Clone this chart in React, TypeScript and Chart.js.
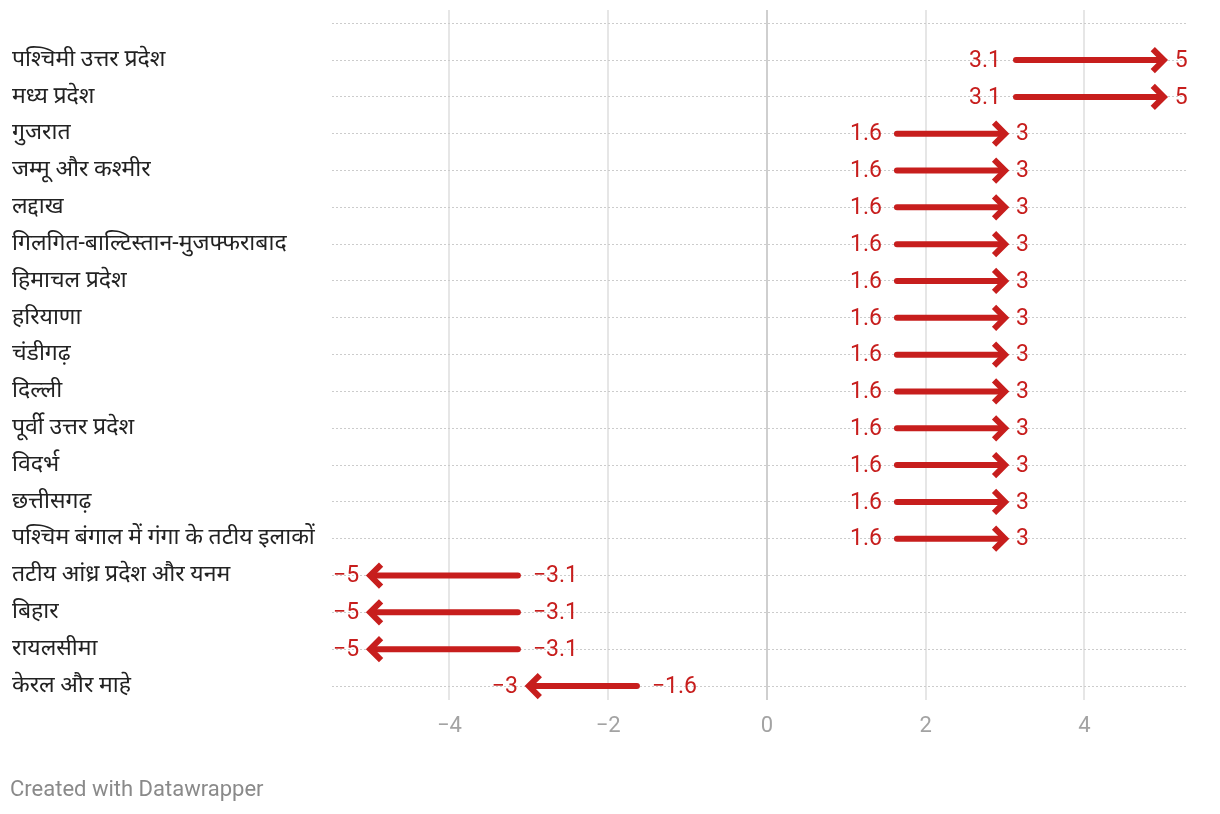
import React, { useEffect, useRef } from "react";
import { Chart, registerables } from "chart.js";

Chart.register(...registerables);

const regions: string[] = [
  "पश्चिमी उत्तर प्रदेश",
  "मध्य प्रदेश",
  "गुजरात",
  "जम्मू और कश्मीर",
  "लद्दाख",
  "गिलगित-बाल्टिस्तान-मुजफ्फराबाद",
  "हिमाचल प्रदेश",
  "हरियाणा",
  "चंडीगढ़",
  "दिल्ली",
  "पूर्वी उत्तर प्रदेश",
  "विदर्भ",
  "छत्तीसगढ़",
  "पश्चिम बंगाल में गंगा के तटीय इलाकों",
  "तटीय आंध्र प्रदेश और यनम",
  "बिहार",
  "रायलसीमा",
  "केरल और माहे",
];

const startValues: number[] = [3.1, 3.1, 1.6, 1.6, 1.6, 1.6, 1.6, 1.6, 1.6, 1.6, 1.6, 1.6, 1.6, 1.6, -3.1, -3.1, -3.1, -1.6];
const endValues: number[] = [5, 5, 3, 3, 3, 3, 3, 3, 3, 3, 3, 3, 3, 3, -5, -5, -5, -3];

const xTicks: number[] = [-4, -2, 0, 2, 4];

const RED = "#c71e1d";
const FONT = "Roboto, 'Noto Sans', sans-serif";

const fmt = (v: number) => (v < 0 ? "\u2212" + Math.abs(v) : String(v));

const arrowPlugin = {
  id: "arrows",
  afterDatasetsDraw(chart: any) {
    const ctx = chart.ctx;
    const xs = chart.scales.x;
    const ys = chart.scales.y;
    ctx.save();
    for (let i = 0; i < regions.length; i++) {
      const x1 = xs.getPixelForValue(startValues[i]);
      const x2 = xs.getPixelForValue(endValues[i]);
      const y = ys.getPixelForValue(i);
      const dir = x2 >= x1 ? 1 : -1;
      ctx.strokeStyle = RED;
      ctx.lineWidth = 6;
      ctx.lineCap = "round";
      ctx.beginPath();
      ctx.moveTo(x1 + dir * 3, y);
      ctx.lineTo(x2 - dir * 4, y);
      ctx.stroke();
      const tip = x2 + dir * 0;
      ctx.lineCap = "butt";
      ctx.lineJoin = "miter";
      ctx.beginPath();
      ctx.moveTo(tip - dir * 11, y - 11);
      ctx.lineTo(tip, y);
      ctx.lineTo(tip - dir * 11, y + 11);
      ctx.stroke();

      ctx.fillStyle = RED;
      ctx.font = `23px ${FONT}`;
      ctx.textBaseline = "middle";
      ctx.textAlign = dir > 0 ? "right" : "left";
      ctx.fillText(fmt(startValues[i]), x1 - dir * 12, y + 1);
      ctx.textAlign = dir > 0 ? "left" : "right";
      ctx.fillText(fmt(endValues[i]), x2 + dir * 11, y + 1);
    }
    ctx.restore();
  },
};

export default function App() {
  const ref = useRef<HTMLCanvasElement | null>(null);
  useEffect(() => {
    if (!ref.current) return;
    const chart = new Chart(ref.current, {
      type: "scatter",
      data: {
        datasets: [
          {
            label: "start",
            data: startValues.map((v, i) => ({ x: v, y: i })),
            pointRadius: 0,
            showLine: false,
          },
          {
            label: "end",
            data: endValues.map((v, i) => ({ x: v, y: i })),
            pointRadius: 0,
            showLine: false,
          },
        ],
      },
      options: {
        animation: false,
        responsive: true,
        maintainAspectRatio: false,
        layout: { padding: { left: 4, right: 26, top: 2, bottom: 66 } },
        plugins: { legend: { display: false }, tooltip: { enabled: false } },
        scales: {
          x: {
            type: "linear",
            min: -5.48,
            max: 5.28,
            afterBuildTicks: (scale: any) => {
              scale.ticks = xTicks.map((v) => ({ value: v }));
            },
            afterFit: (scale: any) => {
              scale.height = 40;
              scale.paddingLeft = 0;
              scale.paddingRight = 0;
            },
            grid: {
              drawTicks: false,
              lineWidth: 2,
              color: (c: any) => (c.tick && c.tick.value === 0 ? "#cfcfcf" : "#e6e6e6"),
            },
            border: { display: false },
            ticks: {
              padding: 13,
              color: "#a3a3a3",
              font: { family: FONT, size: 22 },
              callback: (v: any) => fmt(Number(v)),
            },
          },
          y: {
            type: "linear",
            reverse: true,
            min: -1.36,
            max: 17.38,
            afterBuildTicks: (scale: any) => {
              const t = [{ value: -1 }];
              regions.forEach((_, i) => t.push({ value: i }));
              scale.ticks = t;
            },
            afterFit: (scale: any) => {
              scale.width = 320;
              scale.paddingTop = 0;
              scale.paddingBottom = 0;
            },
            grid: {
              drawTicks: false,
              lineWidth: 1,
              color: "#cccccc",
            },
            border: { display: false, dash: [2, 2] },
            ticks: {
              crossAlign: "far",
              padding: 0,
              color: "#222222",
              font: { family: FONT, size: 23 },
              callback: (v: any) => {
                const n = Number(v);
                return n >= 0 && n < regions.length ? regions[n] : "";
              },
            },
          },
        },
      },
      plugins: [arrowPlugin],
    } as any);
    return () => chart.destroy();
  }, []);

  return (
    <div style={{ position: "relative", width: 1204, height: 798 }}>
      <canvas ref={ref} />
      <div
        style={{
          position: "absolute",
          left: 2,
          top: 767,
          fontFamily: FONT,
          fontSize: 22,
          color: "#8a8a8a",
          lineHeight: "28px",
          whiteSpace: "nowrap",
        }}
      >
        Created with Datawrapper
      </div>
    </div>
  );
}
